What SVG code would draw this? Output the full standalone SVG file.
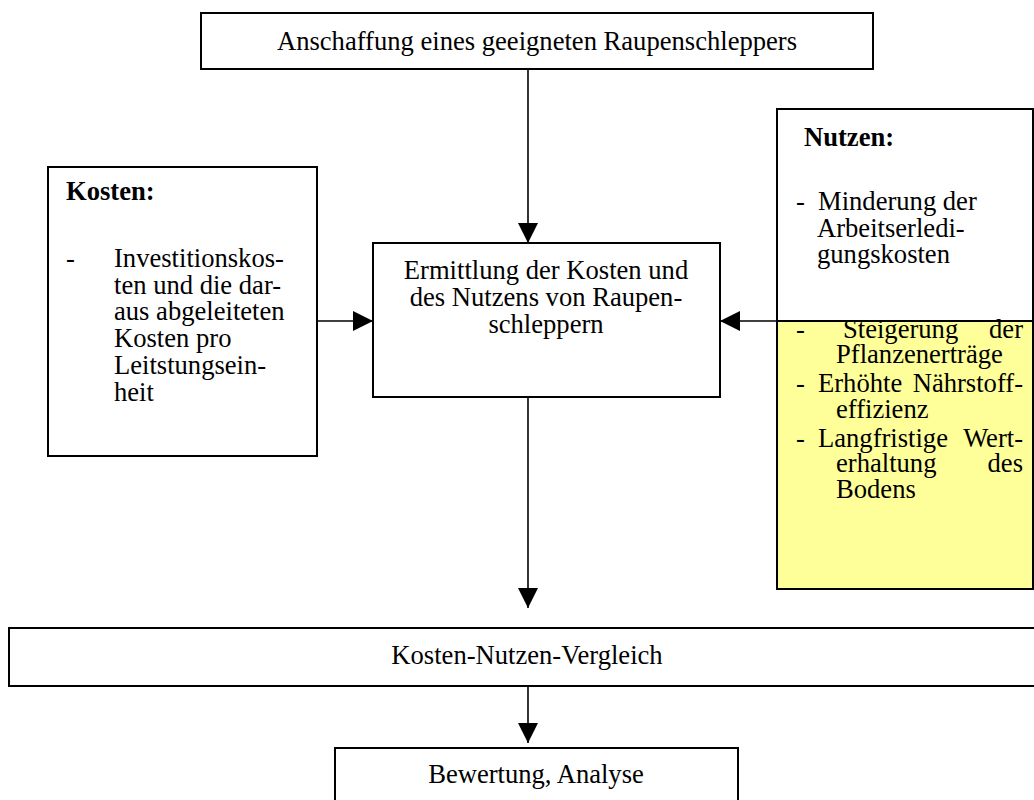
<svg xmlns="http://www.w3.org/2000/svg" width="1034" height="800" viewBox="0 0 1034 800">
  <style>
    .box { fill: #ffffff; stroke: #000000; stroke-width: 2; }
    .hl { fill: #ffff99; stroke: #000000; stroke-width: 2; }
    .t { font-family: "Liberation Serif", "Times New Roman", serif; font-size: 26.6px; fill: #000000; }
    .c { text-anchor: middle; }
    .e { text-anchor: end; }
    .b { font-weight: bold; }
    .conn { stroke: #000000; stroke-width: 1.6; fill: none; marker-end: url(#arrow); }
  </style>
  <defs>
    <marker id="arrow" markerUnits="userSpaceOnUse" markerWidth="20" markerHeight="20" refX="20" refY="10" orient="auto">
      <path d="M0,0 L20,10 L0,20 Z" fill="#000000"/>
    </marker>
  </defs>

  <rect width="1034" height="800" fill="#ffffff"/>

  <!-- connectors -->
  <g id="connectors">
    <line class="conn" x1="528" y1="69" x2="528" y2="243"/>
    <line class="conn" x1="317" y1="321" x2="373" y2="321"/>
    <line class="conn" x1="777" y1="321" x2="720" y2="321"/>
    <line class="conn" x1="528" y1="397" x2="528" y2="608"/>
    <line class="conn" x1="528" y1="686" x2="528" y2="743"/>
  </g>

  <!-- top: acquisition -->
  <g id="anschaffung">
    <rect class="box" x="201" y="13" width="672" height="56"/>
    <text class="t c" x="537" y="50">Anschaffung eines geeigneten Raupenschleppers</text>
  </g>

  <!-- left: costs -->
  <g id="kosten">
    <rect class="box" x="48" y="167" width="269" height="289"/>
    <text class="t b" x="66" y="200">Kosten:</text>
    <text class="t" x="66" y="267">-</text>
    <text class="t" x="114" y="267">Investitionskos-</text>
    <text class="t" x="114" y="294">ten und die dar-</text>
    <text class="t" x="114" y="320">aus abgeleiteten</text>
    <text class="t" x="114" y="347">Kosten pro</text>
    <text class="t" x="114" y="374">Leitstungsein-</text>
    <text class="t" x="114" y="401">heit</text>
  </g>

  <!-- centre: determination -->
  <g id="ermittlung">
    <rect class="box" x="373" y="243" width="347" height="154"/>
    <text class="t c" x="546" y="279">Ermittlung der Kosten und</text>
    <text class="t c" x="546" y="306">des Nutzens von Raupen-</text>
    <text class="t c" x="546" y="333">schleppern</text>
  </g>

  <!-- right: benefits -->
  <g id="nutzen">
    <rect class="box" x="777" y="109" width="256" height="212"/>
    <rect class="hl" x="777" y="321" width="256" height="268"/>
    <text class="t b" x="804" y="146">Nutzen:</text>
    <text class="t" x="796" y="210">-</text>
    <text class="t" x="818" y="210">Minderung der</text>
    <text class="t" x="817" y="237">Arbeitserledi-</text>
    <text class="t" x="817" y="263">gungskosten</text>

    <text class="t" x="796" y="338">-</text>
    <text class="t" x="843" y="338">Steigerung</text>
    <text class="t e" x="1023" y="338">der</text>
    <text class="t" x="836" y="363">Pflanzenerträge</text>
    <text class="t" x="796" y="392">-</text>
    <text class="t" x="818" y="392">Erhöhte</text>
    <text class="t e" x="1023" y="392">Nährstoff-</text>
    <text class="t" x="836" y="418">effizienz</text>
    <text class="t" x="796" y="447">-</text>
    <text class="t" x="818" y="447">Langfristige</text>
    <text class="t e" x="1023" y="447">Wert-</text>
    <text class="t" x="836" y="472">erhaltung</text>
    <text class="t e" x="1023" y="472">des</text>
    <text class="t" x="836" y="498">Bodens</text>
  </g>

  <!-- comparison -->
  <g id="vergleich">
    <rect class="box" x="9" y="628" width="1040" height="58"/>
    <text class="t c" x="527" y="664">Kosten-Nutzen-Vergleich</text>
  </g>

  <!-- evaluation -->
  <g id="bewertung">
    <rect class="box" x="335" y="748" width="403" height="70"/>
    <text class="t c" x="536" y="783">Bewertung, Analyse</text>
  </g>
</svg>
